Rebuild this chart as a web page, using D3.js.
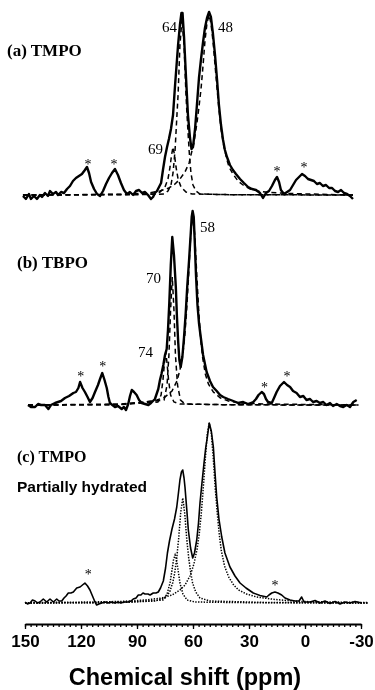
<!DOCTYPE html>
<html><head><meta charset="utf-8">
<script src="https://cdn.jsdelivr.net/npm/d3@7"></script>
<style>html,body{margin:0;padding:0;background:#fff;}svg{display:block;filter:grayscale(1);}</style>
</head><body><svg id="c" width="375" height="690"></svg>
<script>
// ---------- DATA ----------
const axisTicks = [150, 120, 90, 60, 30, 0, -30];
const axisTitle = "Chemical shift (ppm)";
const panelTitles = ["(a) TMPO", "(b) TBPO", "(c) TMPO"];
const panelSubtitle = "Partially hydrated";

// panel (a) TMPO : [ppm, intensity]
const specA = [[151.1,-1],[149.5,-4],[147.9,1],[146.8,-4],[145.2,-1],[143.6,-4],[142.0,0],[140.9,-2],[139.3,2],[137.7,-1],[136.6,4],[135.0,1],[133.4,3],[132.3,0],[130.7,3],[129.1,2],[127.5,6],
[125.9,9],[124.3,14],[122.7,17],[121.1,19],[119.5,21],[117.9,25],[116.8,28],[115.7,22],[114.6,13],[113.0,6],[111.4,1],[109.8,-1],
[108.2,4],[106.6,11],[105.0,17],[103.4,22],[101.8,26],[100.2,20],[98.6,12],[97.0,5],[95.4,1],[93.8,3],[92.1,0],[90.5,4],[88.9,5],[87.3,2],[85.7,3],[84.1,0],[82.5,-4],[81.4,-2],
[80.4,2],[79.3,4],[78.2,8],[77.1,12],[76.1,25],[75.0,38],[73.9,48],[72.9,56],[71.8,66],[70.7,80],[69.6,110],[68.6,135],[68.0,150],[67.0,170],[66.2,182],[65.6,182],[64.8,158],[63.75,118],[62.7,80],[61.6,57],[60.8,46],[60.0,48],[58.9,66],[57.9,90],[56.8,117],[55.7,136],[54.6,153],[53.6,167],[52.5,177],[51.4,183],[50.4,178],[49.3,161],[48.2,140],[47.1,115],[46.1,90],[45.0,70],[43.9,55],[42.9,45],[41.8,38],[40.2,30],[38.6,25],[37.0,21],[34.8,16],[32.7,12],[30.5,8],[28.4,6],[26.25,5],[24.1,2],[22.5,-3],[20.9,2],[19.3,4],[17.7,9],[16.1,15],[15.0,18],[13.9,13],[12.9,5],[11.25,1],[9.6,3],[8.0,5],[6.4,10],[4.8,15],[3.2,18],[1.6,21],[0.0,19],[-1.6,16],[-3.2,15],[-4.8,14],[-6.4,11],[-8.0,12],[-9.6,9],[-11.25,10],[-12.9,7],[-14.5,7],[-16.1,4],[-17.7,3],[-19.3,5],[-20.9,2],[-22.5,1],[-24.1,-1],[-25.7,-4]];
const fitA69 = [[151.1,0],[100,0.5],[80.4,1],[77.7,3],[75.0,8],[73.4,16],[72.3,28],[71.5,40],[70.7,48],[69.9,40],[69.1,28],[68.0,16],[66.4,8],[63.75,3],[60.5,1],[40,0.3],[-25.7,0]];
const fitA64 = [[151.1,0],[90,0.3],[75.5,1],[73.4,4],[71.8,10],[70.7,22],[69.6,45],[68.6,80],[68.0,100],[67.0,150],[65.9,176],[64.8,150],[63.75,100],[63.2,80],[62.1,45],[61.1,22],[60.0,10],[58.4,4],[56.25,1],[40,0.3],[-25.7,0]];
const fitA48 = [[151.1,0],[109.8,0.5],[93.75,1],[83.6,2],[77.7,4],[72.9,7],[69.6,11],[67.0,16],[64.3,23],[62.1,32],[61.1,40],[59.5,52],[57.9,72],[56.8,88],[55.7,106],[54.6,130],[53.6,154],[52.5,172],[51.4,180],[50.4,172],[49.3,154],[48.2,130],[47.1,106],[46.1,86],[45.0,66],[43.4,48],[41.8,35],[40.7,28],[38.6,21],[35.9,14],[33.2,10],[29.4,6],[25.2,4],[19.3,2.5],[8.0,1.5],[-13.4,0.5],[-25.7,0]];
const labelsA = [{t:"64",ppm:68.6,v:163.5,a:"end"},{t:"48",ppm:46.6,v:163.5,a:"start"},{t:"69",ppm:76.1,v:41,a:"end"}];
const starsA = [[116.25,33],[102.3,33],[15.0,26],[0.5,30]];

// panel (b) TBPO
const specB = [[148.4,0],[146.8,-2],[144.6,-2],[143.0,1],[141.4,0],[139.3,0],[137.5,-4],[136.1,0],[133.9,2],[132.3,3],[130.7,4],[128.6,7],[126.4,9],[124.1,12],[122.7,13],[121.4,17],[120.5,23],[119.2,17],[117.9,13],[116.5,8],[115.2,3],[113.8,7],[112.5,13],[110.9,20],[109.8,26],[108.6,32],[107.4,25],[106.2,17],[105.3,8],[104.5,2],[103.2,0],[101.8,-2],[100.2,-1],[98.2,-4],[97.0,-2],[95.9,-5],[94.7,1],[93.75,9],[92.8,15],[91.6,13],[90.2,10],[88.9,5],[87.5,2],[85.7,1],[83.9,0],[82.5,2],[80.4,6],[78.6,16],[77.7,25],[76.9,31],[75.9,40],[75.0,50],[74.1,56],[73.4,75],[72.7,102],[71.9,140],[71.1,168],[70.2,150],[69.2,118],[68.6,88],[67.9,62],[67.3,45],[66.6,38],[65.7,48],[64.8,68],[63.9,92],[63.1,118],[62.1,145],[61.2,172],[60.7,188],[60.2,194],[59.6,188],[59.1,165],[58.4,130],[57.6,100],[56.8,82],[56.0,70],[54.6,50],[52.7,33],[50.9,24],[49.3,18],[47.3,14],[45.5,10],[43.8,8],[41.25,6],[38.4,4],[35.9,2],[33.1,3],[30.5,1],[27.7,3],[26.25,6],[24.9,10],[23.2,13],[22.0,11],[20.9,6],[19.8,3],[17.8,2],[16.6,7],[15.2,13],[13.4,19],[11.25,23],[9.6,20],[8.0,18],[6.4,14],[4.5,12],[2.7,8],[0.9,9],[-0.8,5],[-2.7,6],[-4.3,3],[-6.25,4],[-8.0,2],[-9.8,3],[-11.5,0],[-13.4,2],[-15.0,-1],[-17.0,1],[-18.75,-1],[-20.5,-2],[-22.3,0],[-24.1,-2],[-25.9,3],[-27.7,5]];
const fitB74 = [[148.4,0],[100,0.3],[78.8,3],[77.1,10],[76.1,25],[75.3,42],[74.6,53],[73.9,42],[73.1,25],[72.0,10],[70.2,3],[67.0,1],[40,0.2],[-28.6,0]];
const fitB70 = [[148.4,0],[100,0.3],[75.5,5],[73.9,20],[72.9,50],[72.0,95],[71.1,128],[70.2,95],[69.4,50],[68.3,20],[66.7,5],[64.3,1],[40,0.2],[-28.6,0]];
const fitB58 = [[148.4,0],[99.1,1],[85.7,3],[79.3,5],[75.0,8],[71.25,14],[68.6,24],[67.0,35],[65.5,50],[64.45,68],[63.4,95],[62.3,131],[61.2,171],[60.2,190],[59.1,171],[58.0,131],[56.96,95],[55.9,66],[54.8,47],[53.4,31],[51.75,21],[49.1,13],[45.3,7],[41.0,4],[34.8,2],[21.4,1],[-28.6,0]];
const labelsB = [{t:"70",ppm:77.1,v:122,a:"end"},{t:"58",ppm:56.25,v:173,a:"start"},{t:"74",ppm:81.4,v:48,a:"end"}];
const starsB = [[120.2,31],[108.4,41],[21.7,20],[9.7,31]];

// panel (c) TMPO partially hydrated
const specC = [[150,1],[148.7,-1],[147.3,0],[146,3],[144.6,2],[143.3,0],[142,1],[140.2,4],[138.4,1],[136.6,4],[134.8,1],[133,4],[131.8,2],[130.3,2],[129.1,5],[128,7],[126.8,10],[125.4,10],[124.1,11],[122.3,15],[120.5,16],[119.2,18],[117.9,20],[116.5,17],[115.2,13],[114.3,9],[113.4,5],[112.5,1],[111.6,-2],[110.4,-1],[108.9,0],[107.1,1],[105.5,0],[103.9,1],[101.8,0],[100.2,1],[98.6,0],[97.0,1],[94.7,1],[93.2,2],[92.0,4],[90.5,5],[89.3,8],[87.9,8],[86.8,10],[85.7,9],[84.1,9],[83.0,8],[81.3,10],[79.8,10],[78.6,11],[77.4,15],[75.9,22],[74.7,35],[73.7,50],[72.6,62],[71.25,74],[69.9,84],[68.7,96],[67.8,110],[67.0,123],[66.2,131],[65.5,133],[64.8,125],[64.3,116],[63.4,95],[62.5,73],[61.3,55],[60.16,45],[59.2,50],[58.0,63],[57.05,80],[56.25,100],[55.2,120],[54.1,140],[53.2,155],[52.3,166],[51.3,180],[50.2,172],[49.1,156],[48.2,130],[47.3,106],[46.1,84],[44.6,66],[42.9,50],[40.2,36],[37.5,27],[34.8,20],[31.6,15],[27.7,10],[24.1,7.5],[20.5,6],[19.3,8],[17.8,10],[16.1,11],[14.5,10],[12.5,8],[10.7,5],[8.0,3],[5.4,2],[3.2,2],[1.8,6],[0.5,1],[-2.7,1],[-5.4,2.5],[-8.0,0],[-10.7,2],[-13.4,-0.5],[-16.1,1.5],[-18.75,-1],[-21.4,1],[-24.1,0],[-26.8,1.5],[-30.4,0]];
const fitC70 = [[150,0],[100,0.3],[76.1,3],[73.9,9],[72.3,20],[71.25,33],[70.45,43],[69.6,48],[68.8,43],[68.0,33],[67.0,20],[65.4,9],[63.2,3],[58.9,1],[30,0.3],[-33.75,0]];
const fitC65 = [[150,0],[100,0.5],[80.4,2],[75.0,5],[72.5,11],[70.9,20],[69.8,30],[68.7,45],[67.66,65],[66.6,90],[65.5,105],[64.45,90],[63.4,65],[62.3,45],[61.2,30],[60.2,20],[58.55,11],[56.25,5],[50.9,2],[20,0.5],[-33.75,0]];
const fitC51 = [[150,0.3],[115.2,1],[99.1,1.5],[85.7,3],[76.6,5],[71.25,8],[67.0,13],[64.3,18],[61.6,27],[59.5,39],[57.7,55],[56.6,70],[55.55,90],[54.5,115],[53.4,144],[52.3,170],[51.3,180],[50.2,170],[49.1,144],[48.1,115],[47.0,90],[45.9,68],[44.8,52],[43.1,37],[40.9,26],[38.2,18],[35.6,13],[31.3,9],[25.9,6],[16.1,3.5],[2.7,1.5],[-13.4,1],[-33.75,0.5]];
const starsC = [[116.1,31],[16.1,20]];

// ---------- DRAW ----------
const svg = d3.select("#c");
svg.append("rect").attr("width",375).attr("height",690).attr("fill","#fff");
const x = d3.scaleLinear().domain([150,-30]).range([25,361]);

const panels = [
  {spec:specA, fits:[fitA69,fitA64,fitA48], y:d3.scaleLinear().domain([0,183]).range([195,12]),
   sw:2.4, dash:"5,3.5", fw:1.5, labels:labelsA, stars:starsA},
  {spec:specB, fits:[fitB74,fitB70,fitB58], y:d3.scaleLinear().domain([0,194]).range([405,211]),
   sw:2.4, dash:"5,3.5", fw:1.5, labels:labelsB, stars:starsB},
  {spec:specC, fits:[fitC70,fitC65,fitC51], y:d3.scaleLinear().domain([0,180]).range([603,423]),
   sw:1.6, dash:"1.4,1.4", fw:1.5, labels:[], stars:starsC}
];

panels.forEach(p => {
  const line = d3.line().x(d=>x(d[0])).y(d=>p.y(d[1]));
  const g = svg.append("g");
  g.selectAll("path.fit").data(p.fits).join("path").attr("class","fit")
    .attr("d", line).attr("fill","none").attr("stroke","#000")
    .attr("stroke-width", p.fw).attr("stroke-dasharray", p.dash);
  g.append("path").attr("d", line(p.spec)).attr("fill","none").attr("stroke","#000")
    .attr("stroke-width", p.sw).attr("stroke-linejoin","round");
  g.selectAll("text.pl").data(p.labels).join("text").attr("class","pl")
    .attr("x", d=>x(d.ppm)).attr("y", d=>p.y(d.v)).attr("text-anchor", d=>d.a)
    .attr("font-family","'Liberation Serif', serif").attr("font-size",15).attr("fill","#000").text(d=>d.t);
  g.selectAll("text.st").data(p.stars).join("text").attr("class","st")
    .attr("x", d=>x(d[0])).attr("y", d=>p.y(d[1]) + 7).attr("text-anchor","middle")
    .attr("font-family","'Liberation Serif', serif").attr("font-size",14).attr("fill","#000").text("*");
});

// panel titles
const titleY = [56, 268, 462], titleX = [7, 17, 17], titleSize = [17, 17, 16];
panelTitles.forEach((t,i) => {
  svg.append("text").attr("x", titleX[i]).attr("y", titleY[i])
    .attr("font-family","'Liberation Serif', serif").attr("font-weight","bold")
    .attr("font-size",titleSize[i]).attr("fill","#000").text(t);
});
svg.append("text").attr("x",17).attr("y",492)
  .attr("font-family","'Liberation Sans', Arial, sans-serif").attr("font-weight","bold")
  .attr("font-size",15.5).attr("fill","#000").text(panelSubtitle);

// axis
const axisY = 624;
const gMinor = svg.append("g").attr("transform",`translate(0,${axisY})`)
  .call(d3.axisBottom(x).tickValues(d3.range(150,-30.01,-3)).tickSize(3).tickFormat(""));
const gAx = svg.append("g").attr("transform",`translate(0,${axisY})`)
  .call(d3.axisBottom(x).tickValues(axisTicks).tickSize(5).tickSizeOuter(0).tickPadding(6).tickFormat(d => String(d)));
[gMinor,gAx].forEach(g=>{
  g.select(".domain").attr("stroke","#000").attr("stroke-width",1.8);
  g.selectAll(".tick line").attr("stroke","#000").attr("stroke-width",1.3);
});
gMinor.select(".domain").remove();
gAx.selectAll(".tick text").attr("font-family","'Liberation Sans', Arial, sans-serif")
  .attr("font-weight","bold").attr("font-size",17).attr("fill","#000");
svg.append("text").attr("x",185).attr("y",685).attr("text-anchor","middle")
  .attr("font-family","'Liberation Sans', Arial, sans-serif").attr("font-weight","bold")
  .attr("font-size",23.5).attr("fill","#000").text(axisTitle);
</script></body></html>
